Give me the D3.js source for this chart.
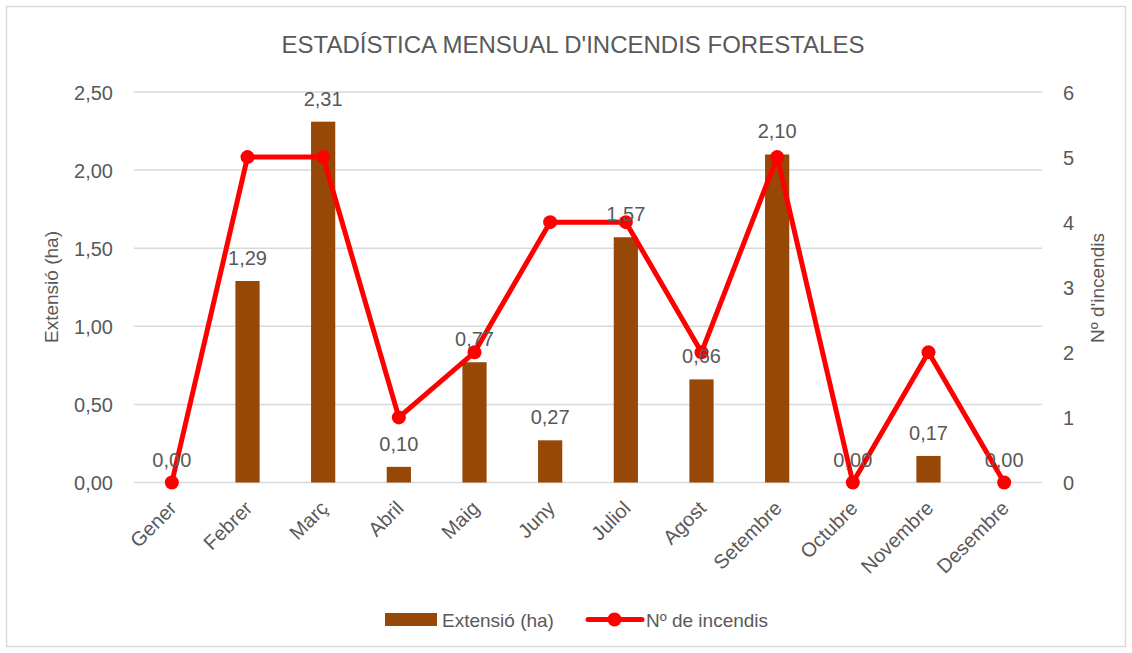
<!DOCTYPE html>
<html>
<head>
<meta charset="utf-8">
<script src="https://cdn.jsdelivr.net/npm/d3@7"></script>
<style>
  html, body { margin: 0; padding: 0; background: #fff; }
  svg text { font-family: "Liberation Sans", Arial, sans-serif; fill: #595959; }
</style>
</head>
<body>
<svg id="chart" width="1132" height="653"></svg>
<script>
const months = ["Gener", "Febrer", "Març", "Abril", "Maig", "Juny", "Juliol", "Agost", "Setembre", "Octubre", "Novembre", "Desembre"];
const extension = [0.00, 1.29, 2.31, 0.10, 0.77, 0.27, 1.57, 0.66, 2.10, 0.00, 0.17, 0.00];
const fireCount = [0, 5, 5, 1, 2, 4, 4, 2, 5, 0, 2, 0];
const leftTicks = [0, 0.5, 1, 1.5, 2, 2.5];
const rightTicks = [0, 1, 2, 3, 4, 5, 6];

const svg = d3.select("#chart");
const W = 1132, H = 653;
const plot = { left: 134, right: 1042, top: 92, bottom: 482.5 };
const barColor = "#974706";
const lineColor = "#FF0000";
const fmt = v => d3.format(".2f")(v).replace(".", ",");

// outer frame
svg.append("rect").attr("x", 6.5).attr("y", 6.5).attr("width", W - 13).attr("height", H - 13)
  .attr("fill", "#fff").attr("stroke", "#d9d9d9").attr("stroke-width", 1.5);

const x = d3.scaleBand().domain(months).range([plot.left, plot.right]).paddingInner(0.68).paddingOuter(0.34);
const xc = d => x(d) + x.bandwidth() / 2;
const yL = d3.scaleLinear().domain([0, 2.5]).range([plot.bottom, plot.top]);
const yR = d3.scaleLinear().domain([0, 6]).range([plot.bottom, plot.top]);

// gridlines
svg.append("g").selectAll("line").data(leftTicks).join("line")
  .attr("x1", plot.left).attr("x2", plot.right)
  .attr("y1", d => yL(d)).attr("y2", d => yL(d))
  .attr("stroke", "#d9d9d9").attr("stroke-width", 1.5);

// left axis
const axL = svg.append("g").attr("transform", `translate(${plot.left},0)`)
  .call(d3.axisLeft(yL).tickValues(leftTicks).tickFormat(fmt).tickSize(0).tickPadding(21));
axL.select(".domain").remove();
axL.selectAll("text").attr("font-size", 20).attr("font-family", null).attr("fill", "#595959").attr("dy", "0.36em");

// right axis
const axR = svg.append("g").attr("transform", `translate(${plot.right},0)`)
  .call(d3.axisRight(yR).tickValues(rightTicks).tickFormat(d3.format("d")).tickSize(0).tickPadding(21));
axR.select(".domain").remove();
axR.selectAll("text").attr("font-size", 20).attr("font-family", null).attr("fill", "#595959").attr("dy", "0.36em");

// bottom category axis
const axB = svg.append("g").attr("transform", `translate(0,${plot.bottom})`)
  .call(d3.axisBottom(x).tickSize(0).tickPadding(0));
axB.select(".domain").remove();
axB.selectAll("text")
  .attr("font-size", 20).attr("font-family", null).attr("fill", "#595959")
  .attr("text-anchor", "end").attr("dy", null).attr("y", 0)
  .attr("transform", "translate(6,27) rotate(-45)");

// bars
svg.append("g").selectAll("rect").data(months).join("rect")
  .attr("x", d => x(d)).attr("width", x.bandwidth())
  .attr("y", (d, i) => yL(extension[i]))
  .attr("height", (d, i) => yL(0) - yL(extension[i]))
  .attr("fill", barColor);

// line series
const line = d3.line().x((d, i) => xc(months[i])).y(d => yR(d));
svg.append("path").datum(fireCount).attr("d", line)
  .attr("fill", "none").attr("stroke", lineColor).attr("stroke-width", 5).attr("stroke-linejoin", "round");
svg.append("g").selectAll("circle").data(fireCount).join("circle")
  .attr("cx", (d, i) => xc(months[i])).attr("cy", d => yR(d)).attr("r", 7).attr("fill", lineColor);

// bar value labels
svg.append("g").selectAll("text").data(extension).join("text")
  .attr("x", (d, i) => xc(months[i])).attr("y", d => yL(d) - 16)
  .attr("text-anchor", "middle").attr("font-size", 20).text(fmt);

// title
svg.append("text").attr("x", 573).attr("y", 53).attr("text-anchor", "middle")
  .attr("font-size", 24).text("ESTADÍSTICA MENSUAL D'INCENDIS FORESTALES");

// axis titles
svg.append("text").attr("transform", `translate(58,287) rotate(-90)`).attr("text-anchor", "middle")
  .attr("font-size", 19).text("Extensió (ha)");
svg.append("text").attr("transform", `translate(1104,288) rotate(-90)`).attr("text-anchor", "middle")
  .attr("font-size", 19).text("Nº d'incendis");

// legend
const lg = svg.append("g");
lg.append("rect").attr("x", 385).attr("y", 613).attr("width", 52).attr("height", 13).attr("fill", barColor);
lg.append("text").attr("x", 442).attr("y", 627).attr("font-size", 19).text("Extensió (ha)");
lg.append("line").attr("x1", 588).attr("x2", 642).attr("y1", 619.5).attr("y2", 619.5)
  .attr("stroke", lineColor).attr("stroke-width", 5).attr("stroke-linecap", "round");
lg.append("circle").attr("cx", 614.5).attr("cy", 619.5).attr("r", 7).attr("fill", lineColor);
lg.append("text").attr("x", 646).attr("y", 627).attr("font-size", 19).text("Nº de incendis");
</script>
</body>
</html>
